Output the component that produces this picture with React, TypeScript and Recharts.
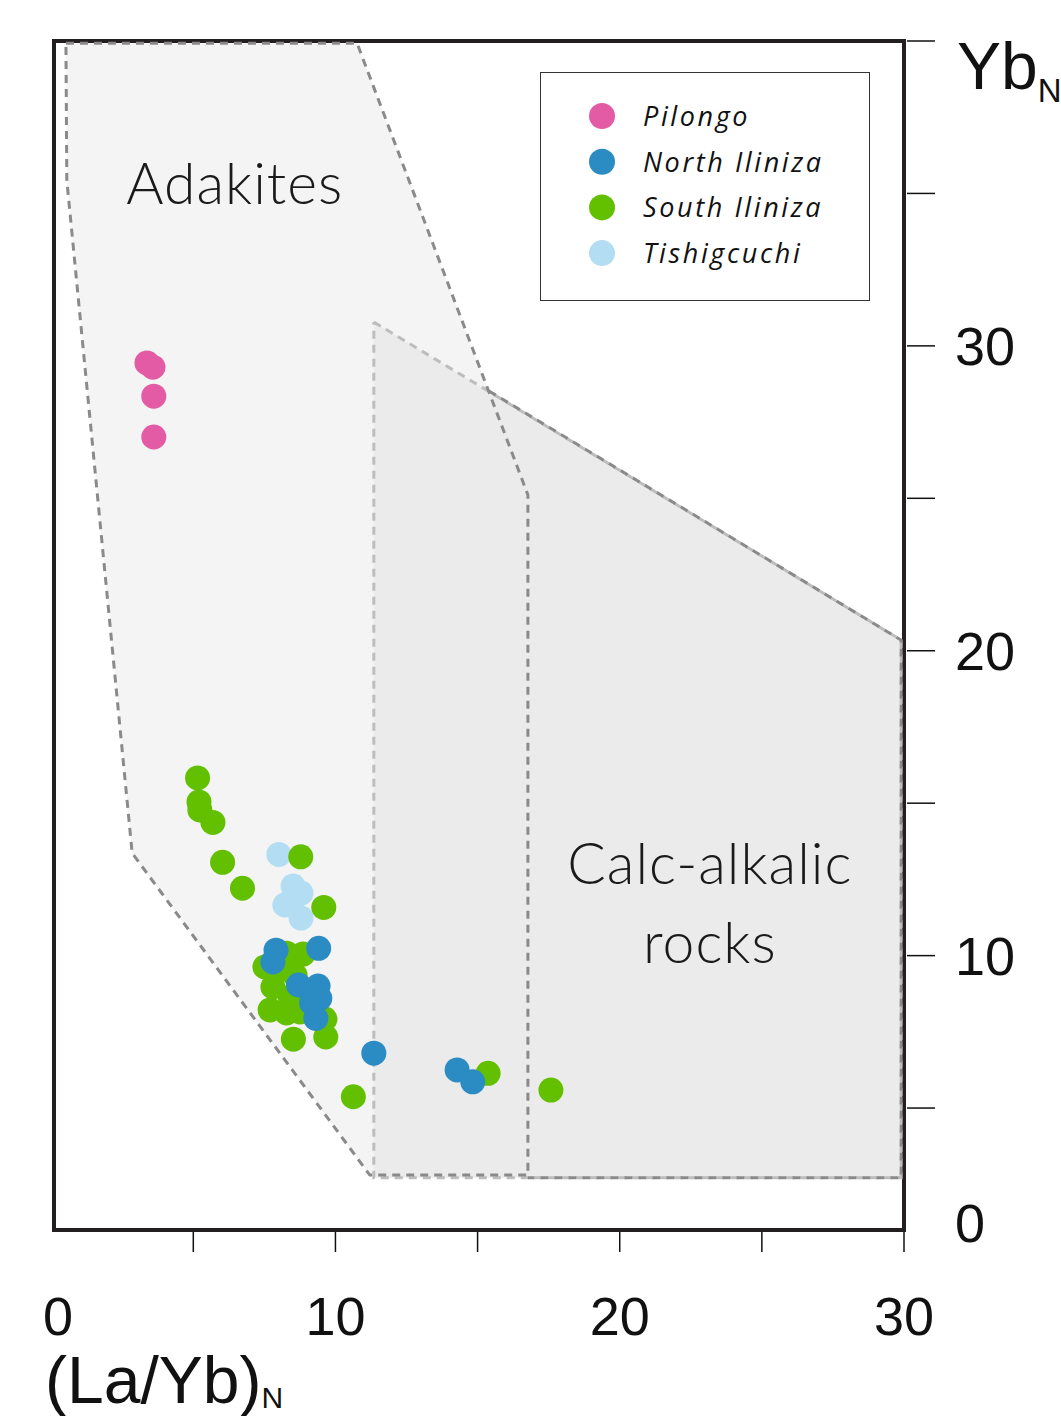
import React from 'react';
import { ScatterChart, Scatter, XAxis, YAxis, ReferenceArea, Legend } from 'recharts';

// sample points: x = (La/Yb)N, y = YbN
const pilongo = [
  { x: 3.37, y: 29.44 },
  { x: 3.58, y: 29.3 },
  { x: 3.61, y: 28.35 },
  { x: 3.61, y: 27.01 },
];

const northIliniza = [
  { x: 7.91, y: 10.18 },
  { x: 7.8, y: 9.79 },
  { x: 9.41, y: 10.24 },
  { x: 8.7, y: 9.04 },
  { x: 9.39, y: 9.0 },
  { x: 9.45, y: 8.6 },
  { x: 9.16, y: 8.45 },
  { x: 9.31, y: 7.94 },
  { x: 11.35, y: 6.8 },
  { x: 14.28, y: 6.25 },
  { x: 14.83, y: 5.86 },
];

const southIliniza = [
  { x: 5.15, y: 15.83 },
  { x: 5.2, y: 15.04 },
  { x: 5.23, y: 14.78 },
  { x: 5.69, y: 14.37 },
  { x: 6.03, y: 13.06 },
  { x: 6.73, y: 12.21 },
  { x: 8.78, y: 13.24 },
  { x: 9.59, y: 11.58 },
  { x: 7.52, y: 9.63 },
  { x: 7.7, y: 8.22 },
  { x: 8.52, y: 7.26 },
  { x: 9.66, y: 7.33 },
  { x: 9.63, y: 7.92 },
  { x: 8.28, y: 10.08 },
  { x: 8.86, y: 10.05 },
  { x: 7.8, y: 8.97 },
  { x: 8.41, y: 8.64 },
  { x: 9.0, y: 8.87 },
  { x: 8.28, y: 8.12 },
  { x: 7.98, y: 9.53 },
  { x: 8.58, y: 9.36 },
  { x: 8.76, y: 8.15 },
  { x: 10.63, y: 5.37 },
  { x: 15.37, y: 6.14 },
  { x: 17.58, y: 5.59 },
];

const tishigcuchi = [
  { x: 8.01, y: 13.32 },
  { x: 8.51, y: 12.28 },
  { x: 8.79, y: 12.05 },
  { x: 8.22, y: 11.66 },
  { x: 8.79, y: 11.23 },
  { x: 8.48, y: 11.82 },
];

// field outlines (closed)
const adakiteField = [
  { x: 0.52, y: 39.93 },
  { x: 10.76, y: 39.93 },
  { x: 16.77, y: 25.11 },
  { x: 16.77, y: 2.8 },
  { x: 11.21, y: 2.8 },
  { x: 2.85, y: 13.36 },
  { x: 0.55, y: 35.44 },
  { x: 0.52, y: 39.93 },
];

const calcAlkalicField = [
  { x: 11.35, y: 30.78 },
  { x: 29.9, y: 20.35 },
  { x: 29.9, y: 2.71 },
  { x: 11.35, y: 2.71 },
  { x: 11.35, y: 30.78 },
];

// part of the calc-alkalic outline lying outside the adakite field
const calcAlkalicOuter = [
  { x: 15.4, y: 28.52 },
  { x: 29.9, y: 20.35 },
  { x: 29.9, y: 2.71 },
  { x: 16.77, y: 2.71 },
];

const fieldLabels = [
  { x: 6.46, y: 34.65, lines: ['Adakites'] },
  { x: 23.17, y: 12.35, lines: ['Calc-alkalic', 'rocks'] },
];

const xTicks = [0.1, 5, 10, 15, 20, 25, 30];
const xTickLabels = ['0', '', '10', '', '20', '', '30'];
const yTicks = [1, 5, 10, 15, 20, 25, 30, 35, 40];
const yTickLabels = ['0', '', '10', '', '20', '', '30', '', ''];

const seriesNames = ['Pilongo', 'North Iliniza', 'South Iliniza', 'Tishigcuchi'];
const seriesColors = ['#e35aa5', '#2b8bc3', '#62c000', '#b3ddf2'];

const tickFont = '"Liberation Sans", Arial, sans-serif';

const XTick = (props: any) => {
  const { x, y, payload } = props;
  const i = xTicks.indexOf(payload.value);
  return (
    <g>
      {i > 0 && <line x1={x} x2={x} y1={y + 2} y2={y + 22} stroke="#111" strokeWidth={1.5} />}
      <text x={i === 0 ? x + 4 : x} y={y + 105} textAnchor="middle" fontSize={54} fontFamily={tickFont} fill="#111">
        {xTickLabels[i]}
      </text>
    </g>
  );
};

const YTick = (props: any) => {
  const { x, y, payload } = props;
  const i = yTicks.indexOf(payload.value);
  return (
    <g>
      {i > 0 && <line x1={x + 3} x2={x + 31} y1={y} y2={y} stroke="#111" strokeWidth={1.5} />}
      <text x={x + 51} y={i === 0 ? y + 12 : y + 19.5} textAnchor="start" fontSize={54} fontFamily={tickFont} fill="#111">
        {yTickLabels[i]}
      </text>
    </g>
  );
};

const dot = (color: string) => (p: any) => <circle cx={p.cx} cy={p.cy} r={12.5} fill={color} />;
const noDot = () => <g />;

const fieldText = (p: any) => (
  <text
    x={p.cx}
    y={p.cy}
    textAnchor="middle"
    fontSize={57}
    fontWeight={300}
    letterSpacing={1}
    fontFamily="Lato, 'Open Sans', sans-serif"
    fill="#1a1a1a"
  >
    {p.payload.lines.map((l: string, k: number) => (
      <tspan key={k} x={p.cx} dy={k === 0 ? 0 : 79}>
        {l}
      </tspan>
    ))}
  </text>
);

const renderLegend = () => (
  <div style={{ width: 330, height: 229, border: '1.5px solid #333', boxSizing: 'border-box', background: '#fff' }}>
    <svg width={327} height={226} style={{ display: 'block' }}>
      {seriesNames.map((name, i) => {
        const cy = 43 + i * 45.7;
        return (
          <g key={name}>
            <circle cx={61} cy={cy} r={13} fill={seriesColors[i]} />
            <text
              x={102}
              y={cy + 10}
              fontSize={27}
              fontStyle="italic"
              letterSpacing={2.6}
              fontFamily="'Open Sans', 'Noto Sans', sans-serif"
              fill="#111"
            >
              {name}
            </text>
          </g>
        );
      })}
    </svg>
  </div>
);

export default function App() {
  return (
    <div style={{ position: 'absolute', left: 0, top: 0, width: 1061, height: 1416, background: '#fff' }}>
      <ScatterChart width={1061} height={1416} margin={{ top: 41, left: 54, right: 57, bottom: 126 }}>
        <XAxis
          type="number"
          dataKey="x"
          domain={[0.1, 30]}
          allowDataOverflow
          ticks={xTicks}
          interval={0}
          axisLine={false}
          tickLine={false}
          tickSize={0}
          tickMargin={0}
          height={60}
          tick={<XTick />}
          label={{
            content: (lp: any) => (
              <text x={lp.viewBox.x - 9} y={lp.viewBox.y + 173} fontSize={66} fontFamily={tickFont} fill="#111">
                (La/Yb)
                <tspan fontSize={30} dy={5}>N</tspan>
              </text>
            ),
          }}
        />
        <YAxis
          type="number"
          dataKey="y"
          orientation="right"
          domain={[1, 40]}
          allowDataOverflow
          ticks={yTicks}
          interval={0}
          axisLine={false}
          tickLine={false}
          tickSize={0}
          tickMargin={0}
          width={100}
          tick={<YTick />}
          label={{
            content: (lp: any) => (
              <text x={lp.viewBox.x + 53} y={lp.viewBox.y + 48} fontSize={66} fontFamily={tickFont} fill="#111">
                Yb
                <tspan fontSize={33} dy={13}>N</tspan>
              </text>
            ),
          }}
        />

        <Scatter
          data={adakiteField}
          shape={noDot}
          line={{ fill: '#f4f4f4', stroke: 'none' }}
          lineType="joint"
          legendType="none"
          isAnimationActive={false}
        />
        <Scatter
          data={calcAlkalicField}
          shape={noDot}
          line={{ fill: '#ebebeb', stroke: '#bdbdbd', strokeWidth: 3, strokeDasharray: '8 6' }}
          lineType="joint"
          legendType="none"
          isAnimationActive={false}
        />
        <Scatter
          data={adakiteField}
          shape={noDot}
          line={{ fill: 'none', stroke: '#8a8a8a', strokeWidth: 3, strokeDasharray: '8 6' }}
          lineType="joint"
          legendType="none"
          isAnimationActive={false}
        />
        <Scatter
          data={calcAlkalicOuter}
          shape={noDot}
          line={{ fill: 'none', stroke: '#8a8a8a', strokeWidth: 3, strokeDasharray: '8 6' }}
          lineType="joint"
          legendType="none"
          isAnimationActive={false}
        />
        <Scatter data={fieldLabels} shape={fieldText} legendType="none" isAnimationActive={false} />

        <Scatter name="Tishigcuchi" data={tishigcuchi} shape={dot(seriesColors[3])} isAnimationActive={false} />
        <Scatter name="South Iliniza" data={southIliniza} shape={dot(seriesColors[2])} isAnimationActive={false} />
        <Scatter name="North Iliniza" data={northIliniza} shape={dot(seriesColors[1])} isAnimationActive={false} />
        <Scatter name="Pilongo" data={pilongo} shape={dot(seriesColors[0])} isAnimationActive={false} />

        <ReferenceArea x1={0.1} x2={30} y1={1} y2={40} fill="none" stroke="#231f20" strokeWidth={4} />

        <Legend
          layout="vertical"
          align="center"
          verticalAlign="middle"
          content={renderLegend}
          wrapperStyle={{ left: 540, top: 72, width: 330, height: 229 }}
        />
      </ScatterChart>
    </div>
  );
}
